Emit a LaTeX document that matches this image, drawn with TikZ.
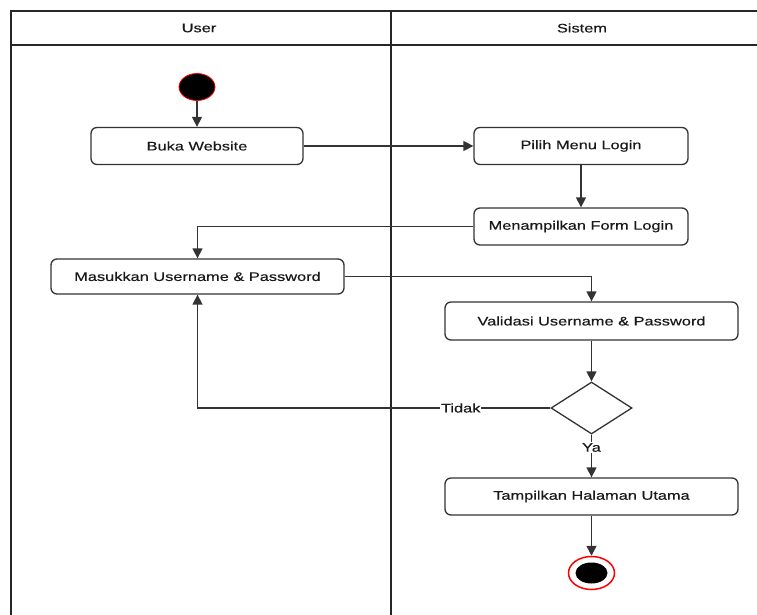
\documentclass[tikz,border=0pt]{standalone}
\usepackage{fontspec}
\setmainfont{Liberation Sans}[FakeStretch=1.32, FakeBold=0.4]
\usetikzlibrary{shapes.geometric,arrows.meta}
\begin{document}
\begin{tikzpicture}[x=1pt,y=-1pt,
  every node/.style={font=\fontsize{12.4}{14}\selectfont, text=black!90},
  act/.style={draw=black!80, line width=1.3pt, rounded corners=6pt, minimum height=37pt, inner sep=0pt},
  lane/.style={draw=black!85, line width=1.4pt},
  flow/.style={draw=black!80, line width=1.4pt, -{Triangle[length=10pt,width=10pt]}},
  lbl/.style={fill=white, inner sep=1pt}
]
\useasboundingbox (0,0) rectangle (757,615);
% swimlanes
\draw[lane] (11,615) -- (11,11) -- (757,11);
\draw[lane] (11,45) -- (757,45);
\draw[lane] (391,11) -- (391,615);
\node (hU) at (199,28) {User};
\node (hS) at (582,28) {Sistem};
% nodes
\node[ellipse, fill=black, draw=red, line width=0.8pt, minimum width=36pt, minimum height=27pt, inner sep=0pt] (start) at (197,87) {};
\node[act, minimum width=212pt] (buka) at (197,146) {Buka Website};
\node[act, minimum width=214pt] (pilih) at (581,146) {Pilih Menu Login};
\node[act, minimum width=214pt] (form) at (581,226.5) {Menampilkan Form Login};
\node[act, minimum width=293pt, minimum height=35pt] (masuk) at (197.5,276.5) {Masukkan Username \& Password};
\node[act, minimum width=293pt, minimum height=38pt] (valid) at (591.5,321) {Validasi Username \& Password};
\node[diamond, draw=black!80, line width=1.3pt, minimum width=81pt, minimum height=52pt, inner sep=0pt] (dec) at (591.5,408) {};
\node[act, minimum width=293pt] (tamp) at (591.5,496.5) {Tampilkan Halaman Utama};
\node[ellipse, draw=red, line width=1.5pt, minimum width=46pt, minimum height=33pt, inner sep=0pt] (end) at (591.5,573) {};
\node[ellipse, fill=black, minimum width=32pt, minimum height=21pt, inner sep=0pt] (endin) at (end.center) {};
% flows
\draw[flow] (start) -- (buka);
\draw[flow] (buka) -- (pilih);
\draw[flow] (pilih) -- (form);
\draw[flow] (form.west) -| (masuk.north);
\draw[flow] (masuk.east) -| (valid.north);
\draw[flow] (valid) -- (dec);
\draw[flow] (dec.west) -| node[lbl, pos=0.127] (tidak) {Tidak} (masuk.south);
\draw[flow] (dec.south) -- node[lbl, pos=0.3] (ya) {Ya} (tamp.north);
\draw[flow] (tamp) -- (end);
\end{tikzpicture}
\end{document}
